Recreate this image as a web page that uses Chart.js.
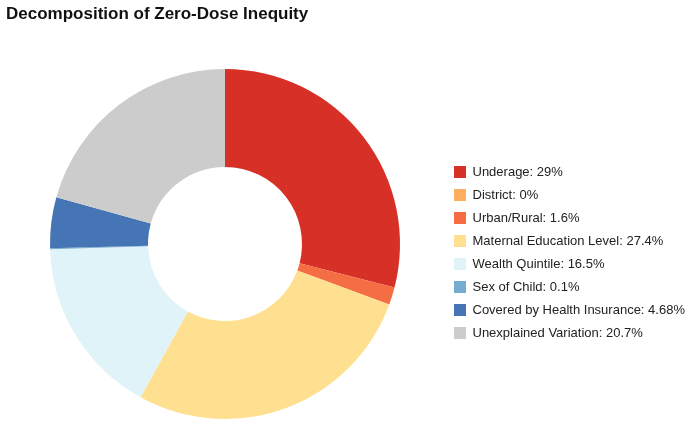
<!DOCTYPE html>
<html>
<head>
<meta charset="utf-8">
<script src="https://cdn.jsdelivr.net/npm/chart.js@4/dist/chart.umd.min.js"></script>
<style>
  html, body { margin: 0; padding: 0; background: #ffffff; }
  #wrap { width: 688px; height: 424px; position: relative; }
</style>
</head>
<body>
<div id="wrap"><canvas id="c" width="688" height="424"></canvas></div>
<script>
const categories = [
  "Underage",
  "District",
  "Urban/Rural",
  "Maternal Education Level",
  "Wealth Quintile",
  "Sex of Child",
  "Covered by Health Insurance",
  "Unexplained Variation"
];
const values = [29, 0, 1.6, 27.4, 16.5, 0.1, 4.68, 20.7];
const colors = ["#d73027", "#fdae61", "#f46d43", "#fee090", "#e0f3f8", "#74add1", "#4575b4", "#cccccc"];
const legendLabels = categories.map((c, i) => c + ": " + values[i] + "%");

Chart.defaults.font.family = "'Liberation Sans', Arial, sans-serif";
Chart.defaults.color = "#222222";

new Chart(document.getElementById("c"), {
  type: "doughnut",
  data: {
    labels: legendLabels,
    datasets: [{
      data: values,
      backgroundColor: colors,
      borderWidth: 0,
      hoverOffset: 0
    }]
  },
  options: {
    responsive: false,
    animation: false,
    cutout: "44%",
    layout: { padding: { left: 6, right: 0, top: 0, bottom: 5 } },
    plugins: {
      title: {
        display: true,
        text: "Decomposition of Zero-Dose Inequity",
        align: "start",
        color: "#111111",
        font: { size: 17, weight: "bold" },
        padding: { top: 4, bottom: 44.6 }
      },
      legend: {
        position: "right",
        maxWidth: 244,
        title: {
          display: true,
          text: " ",
          font: { size: 12 },
          padding: { top: 0, bottom: 71.6 }
        },
        labels: {
          boxWidth: 12,
          boxHeight: 12,
          padding: 10,
          color: "#222222",
          font: { size: 13 }
        }
      },
      tooltip: { enabled: false }
    }
  }
});
</script>
</body>
</html>
